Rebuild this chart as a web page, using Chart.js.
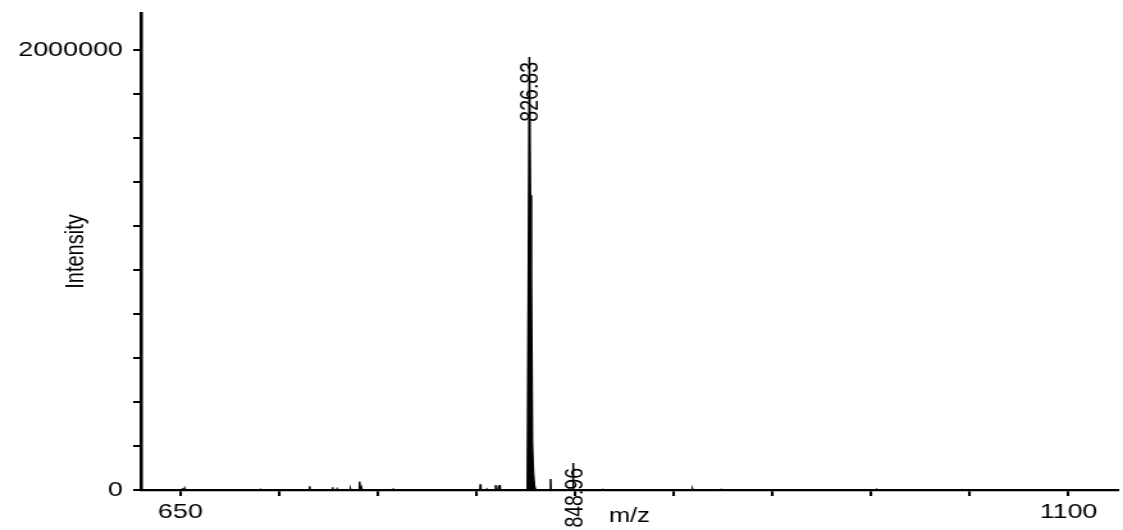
<!DOCTYPE html>
<html>
<head>
<meta charset="utf-8">
<script src="https://cdn.jsdelivr.net/npm/chart.js@4.4.0/dist/chart.umd.min.js"></script>
<style>
html,body{margin:0;padding:0;background:#fff;overflow:hidden;}
#wrap{width:1123px;height:530px;position:relative;overflow:hidden;background:#fff;}
#c{position:absolute;left:0;top:0;transform-origin:0 0;transform:scaleX(1.2805);}
</style>
</head>
<body>
<div id="wrap"><canvas id="c" width="877" height="530"></canvas></div>
<script>
// ---- data ----
// isolated centroid peaks (m/z, intensity)
const stickMz = [651.0, 652.2, 668.0, 690.5, 703.0, 715.5, 727.1, 729.4, 736.2, 740.8, 741.6, 757.9, 776.4, 802.0, 805.3, 809.7, 811.2, 811.8, 816.5, 837.6, 848.96, 856.0, 863.9, 875.5, 893.0, 909.5, 924.0, 958.0, 1003.0, 1046.0];
const stickIntensity = [8000, 6000, 3000, 2500, 2000, 17000, 12000, 4000, 4500, 38000, 12000, 3000, 2500, 26000, 3000, 22000, 20000, 22000, 3500, 50000, 123000, 2500, 6000, 2500, 2000, 4000, 2000, 1800, 1500, 1500];
// main isotope envelope (profile)
const envelopeMz = [825.80, 826.33, 826.83, 827.33, 827.83, 828.33, 828.83, 829.40, 830.00];
const envelopeIntensity = [0, 900000, 1968000, 1340000, 982000, 218000, 82000, 20000, 0];
// annotated peaks
const peakLabelMz = [826.83, 848.96];
const peakLabelIntensity = [1968000, 123000];
const peakLabelText = ['826.83', '848.96'];
// axes
const xMin = 630, xMax = 1125;
const xTickValues = [650, 700, 750, 800, 850, 900, 950, 1000, 1050, 1100];
const xLabelledTicks = [650, 1100];
const yMin = 0, yMax = 2168000;
const yTickValues = [0, 200000, 400000, 600000, 800000, 1000000, 1200000, 1400000, 1600000, 1800000, 2000000];
const yLabelledTicks = [0, 2000000];
const xTitle = 'm/z';
const yTitle = 'Intensity';

// ---- build trace ----
const points = [];
points.push({x: 632, y: 0});
stickMz.forEach((m, i) => {
  points.push({x: m - 0.2, y: 0});
  points.push({x: m, y: stickIntensity[i]});
  points.push({x: m + 0.2, y: 0});
});
envelopeMz.forEach((m, i) => points.push({x: m, y: envelopeIntensity[i]}));
points.push({x: 1123, y: 0});
points.sort((a, b) => a.x - b.x);

const FAMILY = '"Liberation Sans", Arial, Helvetica, sans-serif';

const peakLabelPlugin = {
  id: 'peakLabels',
  afterDatasetsDraw(chart) {
    const {ctx, scales: {x, y}} = chart;
    ctx.save();
    ctx.font = '19.5px ' + FAMILY;
    ctx.fillStyle = '#000';
    ctx.textAlign = 'right';
    ctx.textBaseline = 'alphabetic';
    peakLabelMz.forEach((m, i) => {
      const px = x.getPixelForValue(m);
      const py = y.getPixelForValue(peakLabelIntensity[i]);
      ctx.save();
      ctx.translate(px, py + 5);
      ctx.rotate(-Math.PI / 2);
      ctx.fillText(peakLabelText[i], 0, 7);
      ctx.restore();
    });
    ctx.restore();
  }
};

new Chart(document.getElementById('c'), {
  type: 'line',
  data: {
    datasets: [{
      data: points,
      parsing: false,
      borderColor: '#000',
      backgroundColor: '#000',
      borderWidth: 1.5,
      fill: 'origin',
      pointRadius: 0,
      tension: 0
    }]
  },
  options: {
    responsive: false,
    animation: false,
    events: [],
    layout: {padding: {left: 0, right: 4, top: 13, bottom: 0}},
    plugins: {legend: {display: false}, tooltip: {enabled: false}},
    scales: {
      x: {
        type: 'linear',
        position: 'bottom',
        min: xMin, max: xMax,
        afterBuildTicks: s => { s.ticks = xTickValues.map(v => ({value: v})); },
        ticks: {
          autoSkip: false, maxRotation: 0, minRotation: 0,
          padding: 4, color: '#000', font: {family: FAMILY, size: 21},
          callback: v => xLabelledTicks.includes(v) ? String(v) : ''
        },
        grid: {display: true, drawOnChartArea: false, drawTicks: true, tickLength: 6, color: '#000', lineWidth: 2.1},
        border: {display: true, color: '#000', width: 2.3},
        title: {display: true, text: xTitle, color: '#000', font: {family: FAMILY, size: 20}, padding: {top: 0, bottom: 1.5}},
        afterFit: s => { s.height = 40; s.paddingLeft = 0; s.paddingRight = 0; }
      },
      y: {
        type: 'linear',
        min: yMin, max: yMax,
        afterBuildTicks: s => { s.ticks = yTickValues.map(v => ({value: v})); },
        ticks: {
          autoSkip: false,
          padding: 8, color: '#000', font: {family: FAMILY, size: 21},
          callback: v => yLabelledTicks.includes(v) ? String(v) : ''
        },
        grid: {display: true, drawOnChartArea: false, drawTicks: true, tickLength: 6, color: '#000', lineWidth: 2},
        border: {display: true, color: '#000', width: 2.6},
        title: {display: true, text: yTitle, color: '#000', font: {family: FAMILY, size: 20}, padding: {top: 47, bottom: 0}},
        afterFit: s => { s.width = 110; s.paddingTop = 0; s.paddingBottom = 0; }
      }
    }
  },
  plugins: [peakLabelPlugin]
});
</script>
</body>
</html>
